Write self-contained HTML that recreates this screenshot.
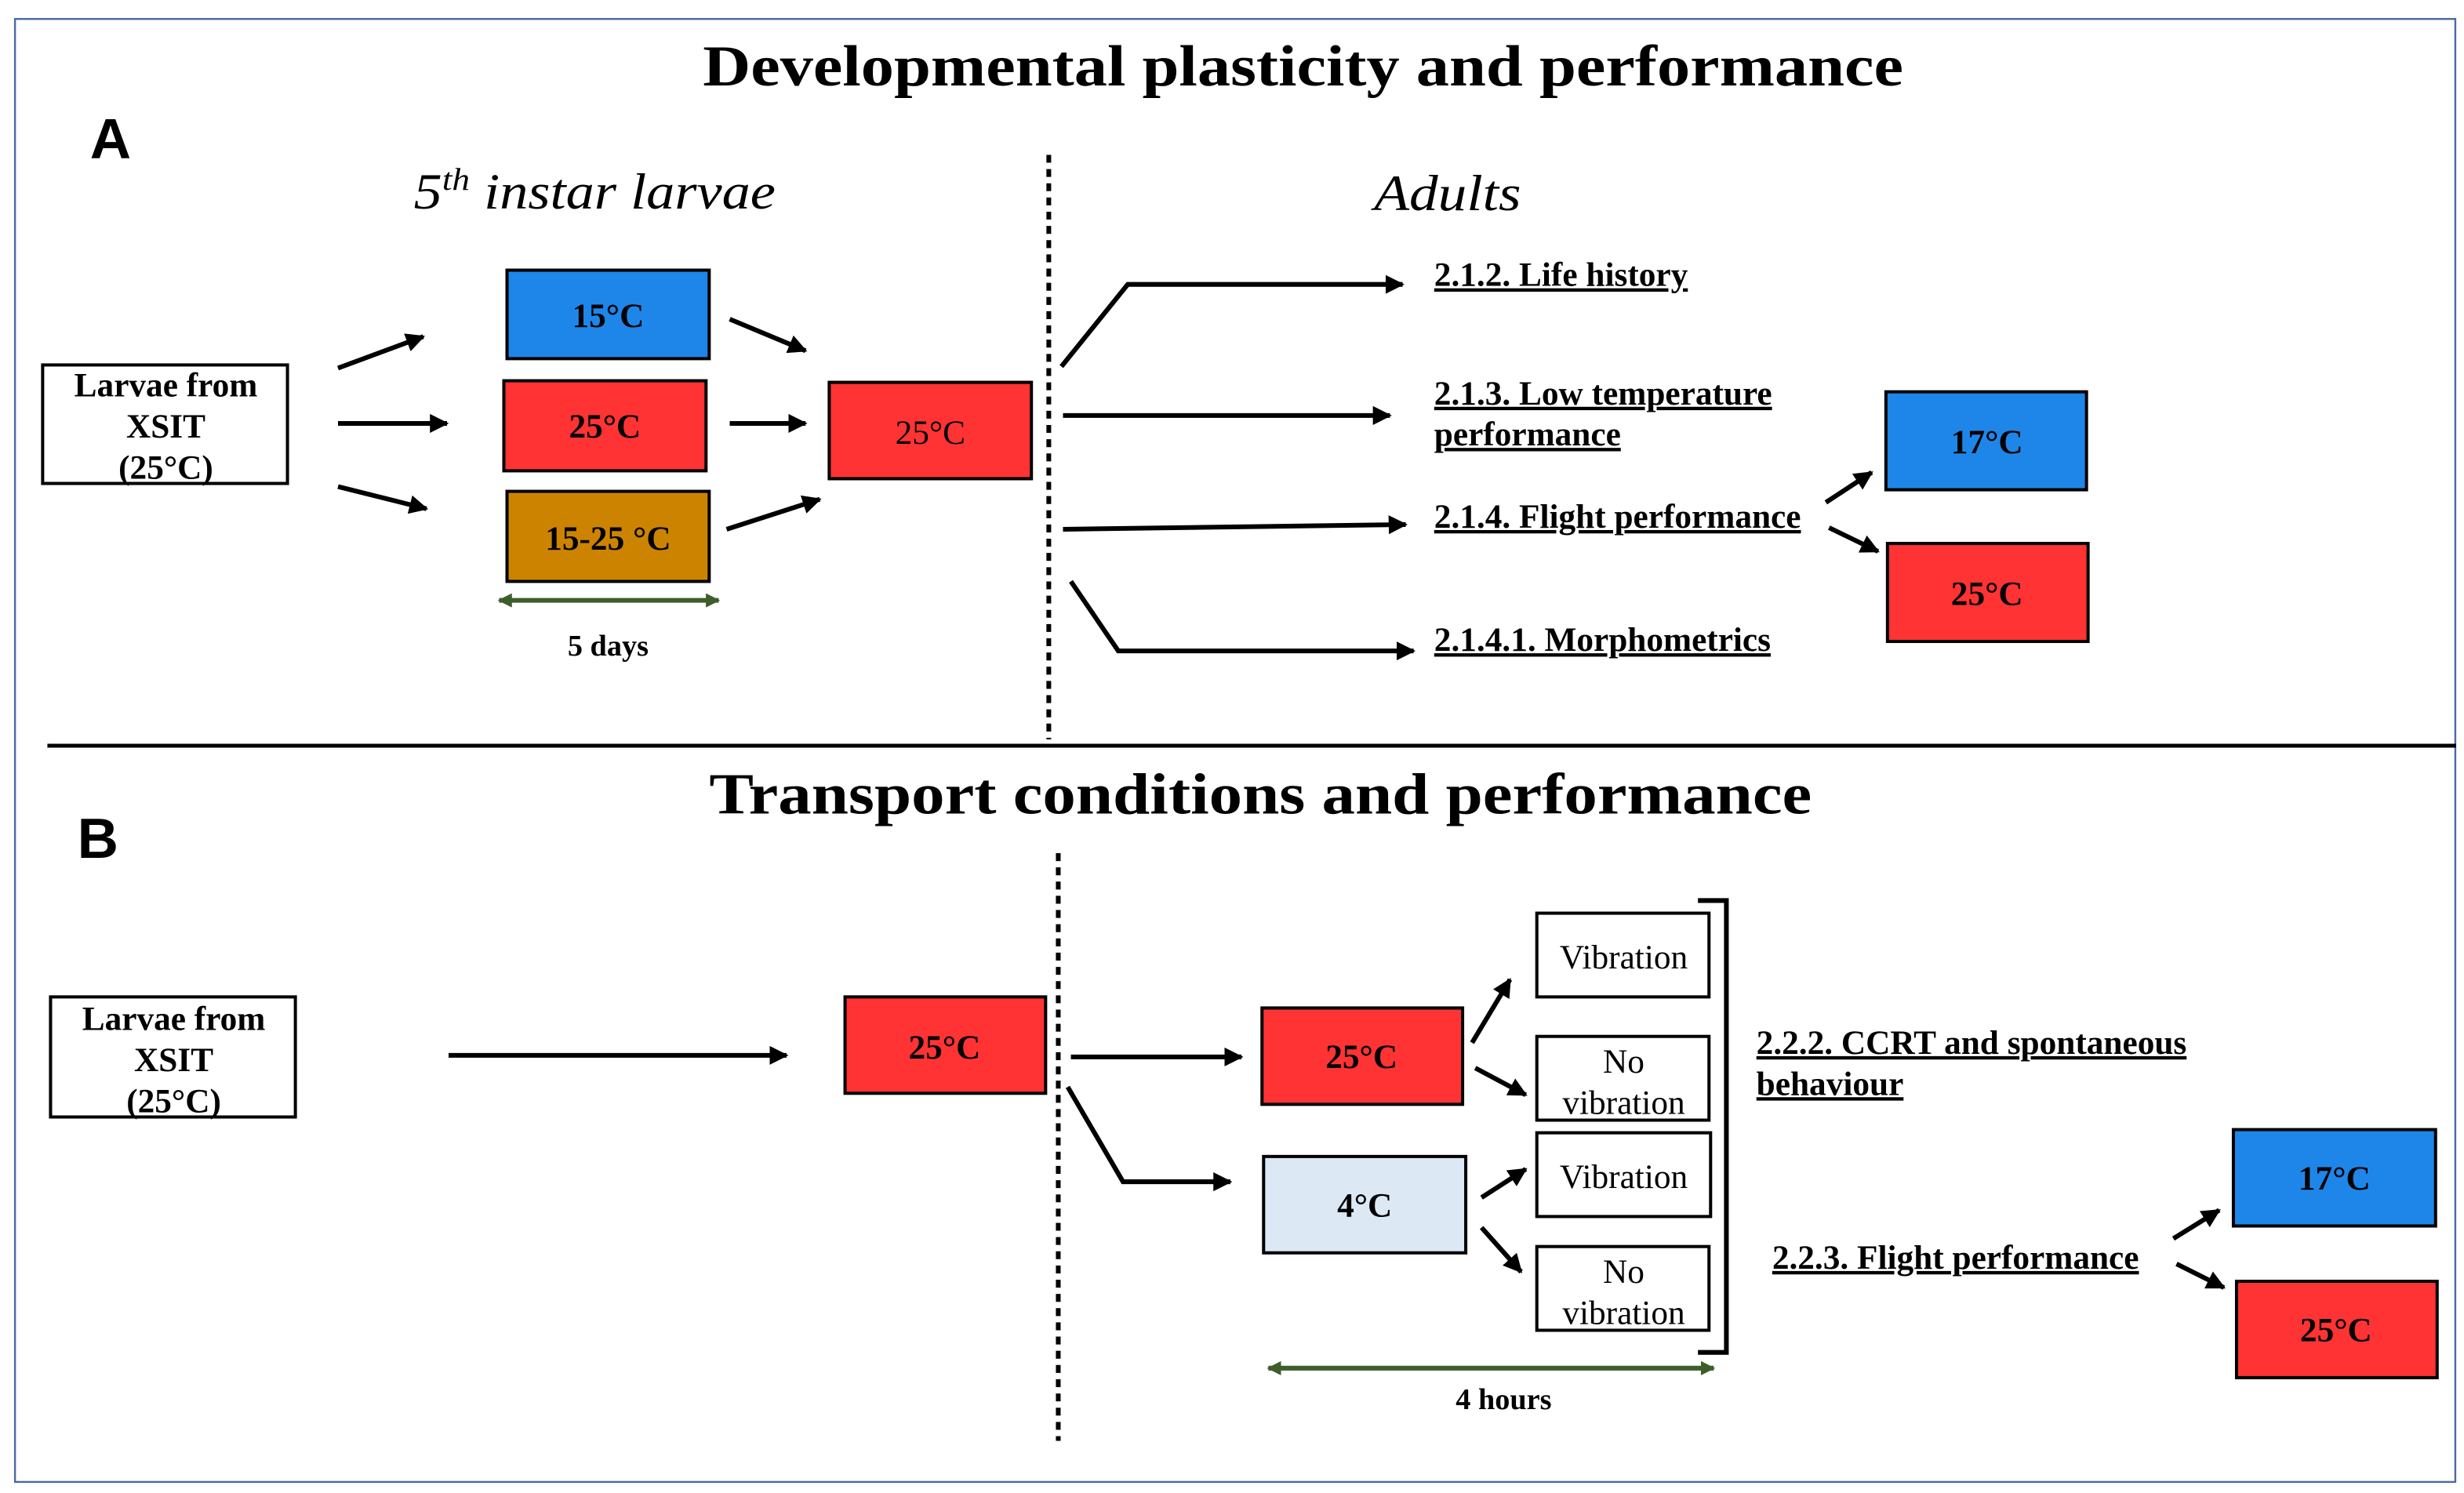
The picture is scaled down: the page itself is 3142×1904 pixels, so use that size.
<!DOCTYPE html>
<html><head><meta charset="utf-8"><style>html,body{margin:0;padding:0;background:#fff;width:3142px;height:1904px;overflow:hidden}svg{display:block}</style></head><body>
<svg width="3142" height="1904" viewBox="0 0 1560 945" preserveAspectRatio="none" xmlns="http://www.w3.org/2000/svg" font-family="'Liberation Serif', serif">
<defs>
<marker id="a" viewBox="0 0 10 10" refX="9" refY="5" markerWidth="4" markerHeight="4" orient="auto"><path d="M0,0 L10,5 L0,10 z" fill="#000"/></marker>
<marker id="g" viewBox="0 0 10 10" refX="9" refY="5" markerWidth="3" markerHeight="3" orient="auto-start-reverse"><path d="M0,0 L10,5 L0,10 z" fill="#3d5e2a"/></marker>
</defs>
<rect x="9.5" y="12" width="1545" height="926" fill="#fff" stroke="#4a6aa5" stroke-width="1.2"/>
<text x="825" y="54" font-size="37" font-weight="bold" text-anchor="middle" textLength="760" lengthAdjust="spacingAndGlyphs">Developmental plasticity and performance</text>
<text x="57" y="100" font-family="'Liberation Sans',sans-serif" font-size="36" font-weight="bold">A</text>
<text x="262" y="132" font-size="32" font-style="italic" textLength="229" lengthAdjust="spacingAndGlyphs">5<tspan font-size="20" dy="-12">th</tspan><tspan dy="12"> instar larvae</tspan></text>
<text x="870" y="133" font-size="32" font-style="italic" textLength="93" lengthAdjust="spacingAndGlyphs">Adults</text>
<line x1="664" y1="98" x2="664" y2="468" stroke="#000" stroke-width="3" stroke-dasharray="5,4"/>
<line x1="30" y1="472" x2="1555" y2="472" stroke="#000" stroke-width="2.5"/>
<g stroke="#000" stroke-width="2">
<rect x="27" y="231" width="155" height="75" fill="#fff"/>
<rect x="321" y="171" width="128" height="56" fill="#1e86e8"/>
<rect x="319" y="241" width="128" height="57" fill="#ff3333"/>
<rect x="321" y="311" width="128" height="57" fill="#cc8400"/>
<rect x="525" y="242" width="128" height="61" fill="#ff3333"/>
<rect x="1194" y="248" width="127" height="62" fill="#1e86e8"/>
<rect x="1195" y="344" width="127" height="62" fill="#ff3333"/>
</g>
<g font-size="21.5" font-weight="bold" text-anchor="middle">
<text x="105" y="251">Larvae from</text><text x="105" y="277">XSIT</text><text x="105" y="303">(25°C)</text>
<text x="385" y="207">15°C</text><text x="383" y="277">25°C</text><text x="385" y="348">15-25 °C</text>
<text x="589" y="281" font-weight="normal">25°C</text>
<text x="1258" y="287">17°C</text><text x="1258" y="383">25°C</text>
<text x="385" y="415" font-size="19">5 days</text>
</g>
<g stroke="#000" stroke-width="3" fill="none" marker-end="url(#a)">
<line x1="214" y1="233" x2="268" y2="213"/><line x1="214" y1="268" x2="283" y2="268"/><line x1="214" y1="308" x2="270" y2="322"/>
<line x1="462" y1="202" x2="510" y2="222"/><line x1="462" y1="268" x2="510" y2="268"/><line x1="460" y1="335" x2="519" y2="316"/>
<polyline points="672,232 714,180 888,180"/><line x1="673" y1="263" x2="880" y2="263"/>
<line x1="673" y1="335" x2="890" y2="332"/><polyline points="678,368 708,412 895,412"/>
<line x1="1156" y1="318" x2="1185" y2="299"/><line x1="1158" y1="334" x2="1189" y2="349"/>
</g>
<line x1="316" y1="380" x2="455" y2="380" stroke="#3d5e2a" stroke-width="3" marker-start="url(#g)" marker-end="url(#g)"/>
<g font-size="21.5" font-weight="bold" text-decoration="underline">
<text x="908" y="181">2.1.2. Life history</text>
<text x="908" y="256">2.1.3. Low temperature</text><text x="908" y="282">performance</text>
<text x="908" y="334">2.1.4. Flight performance</text>
<text x="908" y="412">2.1.4.1. Morphometrics</text>
</g>
<text x="798" y="515" font-size="37" font-weight="bold" text-anchor="middle" textLength="698" lengthAdjust="spacingAndGlyphs">Transport conditions and performance</text>
<text x="49" y="543" font-family="'Liberation Sans',sans-serif" font-size="36" font-weight="bold">B</text>
<line x1="670" y1="540" x2="670" y2="912" stroke="#000" stroke-width="3" stroke-dasharray="5,4"/>
<g stroke="#000" stroke-width="2">
<rect x="32" y="631" width="155" height="76" fill="#fff"/>
<rect x="535" y="631" width="127" height="61" fill="#ff3333"/>
<rect x="799" y="638" width="127" height="61" fill="#ff3333"/>
<rect x="800" y="732" width="128" height="61" fill="#dde8f5"/>
<rect x="973" y="578" width="109" height="53" fill="#fff"/>
<rect x="973" y="656" width="109" height="53" fill="#fff"/>
<rect x="973" y="717" width="110" height="53" fill="#fff"/>
<rect x="973" y="789" width="109" height="53" fill="#fff"/>
<rect x="1414" y="715" width="128" height="61" fill="#1e86e8"/>
<rect x="1416" y="811" width="127" height="61" fill="#ff3333"/>
</g>
<g font-size="21.5" font-weight="bold" text-anchor="middle">
<text x="110" y="652">Larvae from</text><text x="110" y="678">XSIT</text><text x="110" y="704">(25°C)</text>
<text x="598" y="670">25°C</text><text x="862" y="676">25°C</text><text x="864" y="770">4°C</text>
<text x="1478" y="753">17°C</text><text x="1479" y="849">25°C</text>
<text x="952" y="892" font-size="19">4 hours</text>
</g>
<g font-size="21.5" text-anchor="middle">
<text x="1028" y="613">Vibration</text>
<text x="1028" y="679">No</text><text x="1028" y="705">vibration</text>
<text x="1028" y="752">Vibration</text>
<text x="1028" y="812">No</text><text x="1028" y="838">vibration</text>
</g>
<g stroke="#000" stroke-width="3" fill="none" marker-end="url(#a)">
<line x1="284" y1="668" x2="498" y2="668"/>
<line x1="678" y1="669" x2="786" y2="669"/><polyline points="676,688 711,748 779,748"/>
<line x1="932" y1="660" x2="956" y2="620"/><line x1="934" y1="676" x2="966" y2="693"/>
<line x1="938" y1="758" x2="966" y2="740"/><line x1="938" y1="777" x2="963" y2="805"/>
<line x1="1376" y1="784" x2="1405" y2="766"/><line x1="1378" y1="800" x2="1408" y2="815"/>
</g>
<path d="M1075,570 H1093 V856 H1075" stroke="#000" stroke-width="3" fill="none"/>
<line x1="803" y1="866" x2="1085" y2="866" stroke="#3d5e2a" stroke-width="3" marker-start="url(#g)" marker-end="url(#g)"/>
<g font-size="21.5" font-weight="bold" text-decoration="underline">
<text x="1112" y="667">2.2.2. CCRT and spontaneous</text><text x="1112" y="693">behaviour</text>
<text x="1122" y="803">2.2.3. Flight performance</text>
</g>
</svg>
</body></html>
